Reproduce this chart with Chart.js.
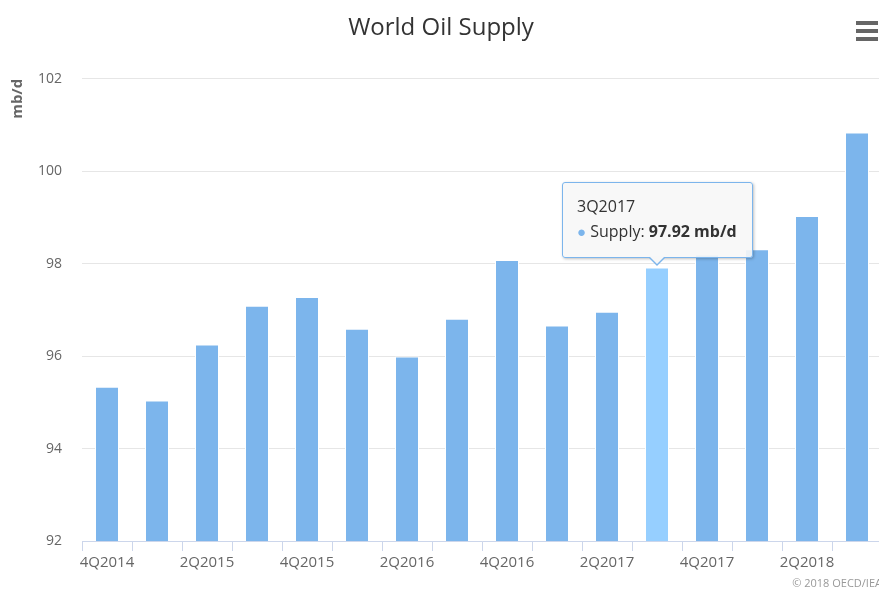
<!DOCTYPE html>
<html>
<head>
<meta charset="utf-8">
<script src="https://cdn.jsdelivr.net/npm/chart.js@4.4.0/dist/chart.umd.min.js"></script>
<style>
  html, body { margin: 0; padding: 0; background: #fff; overflow: hidden; }
  #wrap { position: relative; width: 892px; height: 592px; }
  #tip {
    position: absolute;
    display: none;
    background: rgba(247, 247, 247, 0.9);
    border: 1px solid #7cb5ec;
    border-radius: 3px;
    box-shadow: 1px 1px 3px rgba(0, 0, 0, 0.25);
    padding: 11px 15px 13px 14px;
    font-family: 'Open Sans', sans-serif;
    font-size: 16px;
    color: #333;
    line-height: 25px;
    white-space: nowrap;
  }
  #tip:before, #tip:after {
    content: '';
    position: absolute;
    left: 50%;
    border-style: solid;
  }
  #tip:before {
    bottom: -9px;
    margin-left: -9px;
    border-width: 9px 9px 0 9px;
    border-color: #7cb5ec transparent transparent transparent;
  }
  #tip:after {
    bottom: -7px;
    margin-left: -8px;
    border-width: 8px 8px 0 8px;
    border-color: rgba(247, 247, 247, 1) transparent transparent transparent;
  }
  #tip .dot { color: #7cb5ec; font-size: 15px; }
</style>
</head>
<body>
<div id="wrap">
  <canvas id="chart" width="892" height="592"></canvas>
  <div id="tip"></div>
</div>
<script>
// quarters on the x axis
const quarters = [
  '4Q2014', '1Q2015', '2Q2015', '3Q2015', '4Q2015', '1Q2016', '2Q2016', '3Q2016',
  '4Q2016', '1Q2017', '2Q2017', '3Q2017', '4Q2017', '1Q2018', '2Q2018', '3Q2018'
];
// world oil supply, mb/d
const supply = [
  95.34, 95.04, 96.25, 97.09, 97.28, 96.59, 95.99, 96.81,
  98.08, 96.66, 96.96, 97.92, 98.20, 98.31, 99.03, 100.84
];
const yTicks = [92, 94, 96, 98, 100, 102];
const activeIndex = 11; // 3Q2017 tooltip shown

const FONT = "'Open Sans', sans-serif";
const Y_AXIS_WIDTH = 82;
const X_AXIS_HEIGHT = 51;

// Extra bits Highcharts draws: the export menu icon and the credits line
const extras = {
  id: 'extras',
  afterDraw(chart) {
    const ctx = chart.ctx;
    ctx.save();
    // hamburger
    ctx.strokeStyle = '#666';
    ctx.lineWidth = 4;
    [23, 31, 39].forEach(y => {
      ctx.beginPath();
      ctx.moveTo(856, y);
      ctx.lineTo(878, y);
      ctx.stroke();
    });
    // credits
    ctx.fillStyle = '#999';
    ctx.font = '11px ' + FONT;
    ctx.textAlign = 'right';
    ctx.textBaseline = 'alphabetic';
    ctx.fillText('\u00a9 2018 OECD/IEA', chart.width - 10, chart.height - 5);
    ctx.restore();
  }
};

function externalTip(context) {
  const tip = document.getElementById('tip');
  const model = context.tooltip;
  if (!model || model.opacity === 0 || !model.dataPoints || !model.dataPoints.length) {
    tip.style.display = 'none';
    return;
  }
  const dp = model.dataPoints[0];
  tip.innerHTML = dp.label + '<br><span class="dot">\u25CF</span> Supply: <b>' +
    dp.raw.toFixed(2) + ' mb/d</b>';
  tip.style.display = 'block';
  const el = dp.element;
  const w = tip.offsetWidth, h = tip.offsetHeight;
  tip.style.left = Math.round(el.x - w / 2) + 'px';
  tip.style.top = Math.round(el.y - h - 9) + 'px';
}

const ctx = document.getElementById('chart').getContext('2d');
const chart = new Chart(ctx, {
  type: 'bar',
  data: {
    labels: quarters,
    datasets: [{
      label: 'Supply',
      data: supply,
      backgroundColor: '#7cb5ec',
      hoverBackgroundColor: '#96cfff',
      borderColor: '#ffffff',
      hoverBorderColor: '#ffffff',
      borderWidth: 1,
      hoverBorderWidth: 1,
      categoryPercentage: 0.6,
      barPercentage: 0.8
    }]
  },
  options: {
    responsive: false,
    animation: false,
    events: [],
    layout: { padding: { left: 0, right: 10, top: 0, bottom: 0 } },
    plugins: {
      legend: { display: false },
      title: {
        display: true,
        text: 'World Oil Supply',
        color: '#333',
        font: { family: FONT, size: 24, weight: 'normal' },
        padding: { top: 14, bottom: 36 }
      },
      tooltip: { enabled: false, external: externalTip }
    },
    scales: {
      x: {
        offset: true,
        grid: {
          display: true,
          offset: true,
          drawOnChartArea: false,
          drawTicks: true,
          tickLength: 10,
          color: '#ccd6eb'
        },
        border: { display: true, color: '#ccd6eb' },
        ticks: {
          autoSkip: false,
          maxRotation: 0,
          color: '#666',
          padding: 3,
          font: { family: FONT, size: 15 },
          callback: function (value, index) {
            return index % 2 === 0 ? this.getLabelForValue(value) : '';
          }
        },
        afterFit(scale) { scale.height = X_AXIS_HEIGHT; }
      },
      y: {
        min: 92,
        max: 102,
        afterBuildTicks(scale) { scale.ticks = yTicks.map(v => ({ value: v })); },
        grid: { color: '#e6e6e6', drawTicks: false },
        border: { display: false },
        ticks: {
          color: '#666',
          padding: 20,
          font: { family: FONT, size: 14 }
        },
        title: {
          display: true,
          text: 'mb/d',
          align: 'end',
          color: '#666',
          font: { family: FONT, size: 15, weight: 'bold' },
          padding: { top: 9, bottom: 0 }
        },
        afterFit(scale) { scale.width = Y_AXIS_WIDTH; }
      }
    }
  },
  plugins: [extras]
});

const active = [{ datasetIndex: 0, index: activeIndex }];
chart.setActiveElements(active);
chart.tooltip.setActiveElements(active, { x: 0, y: 0 });
chart.update();
</script>
</body>
</html>
